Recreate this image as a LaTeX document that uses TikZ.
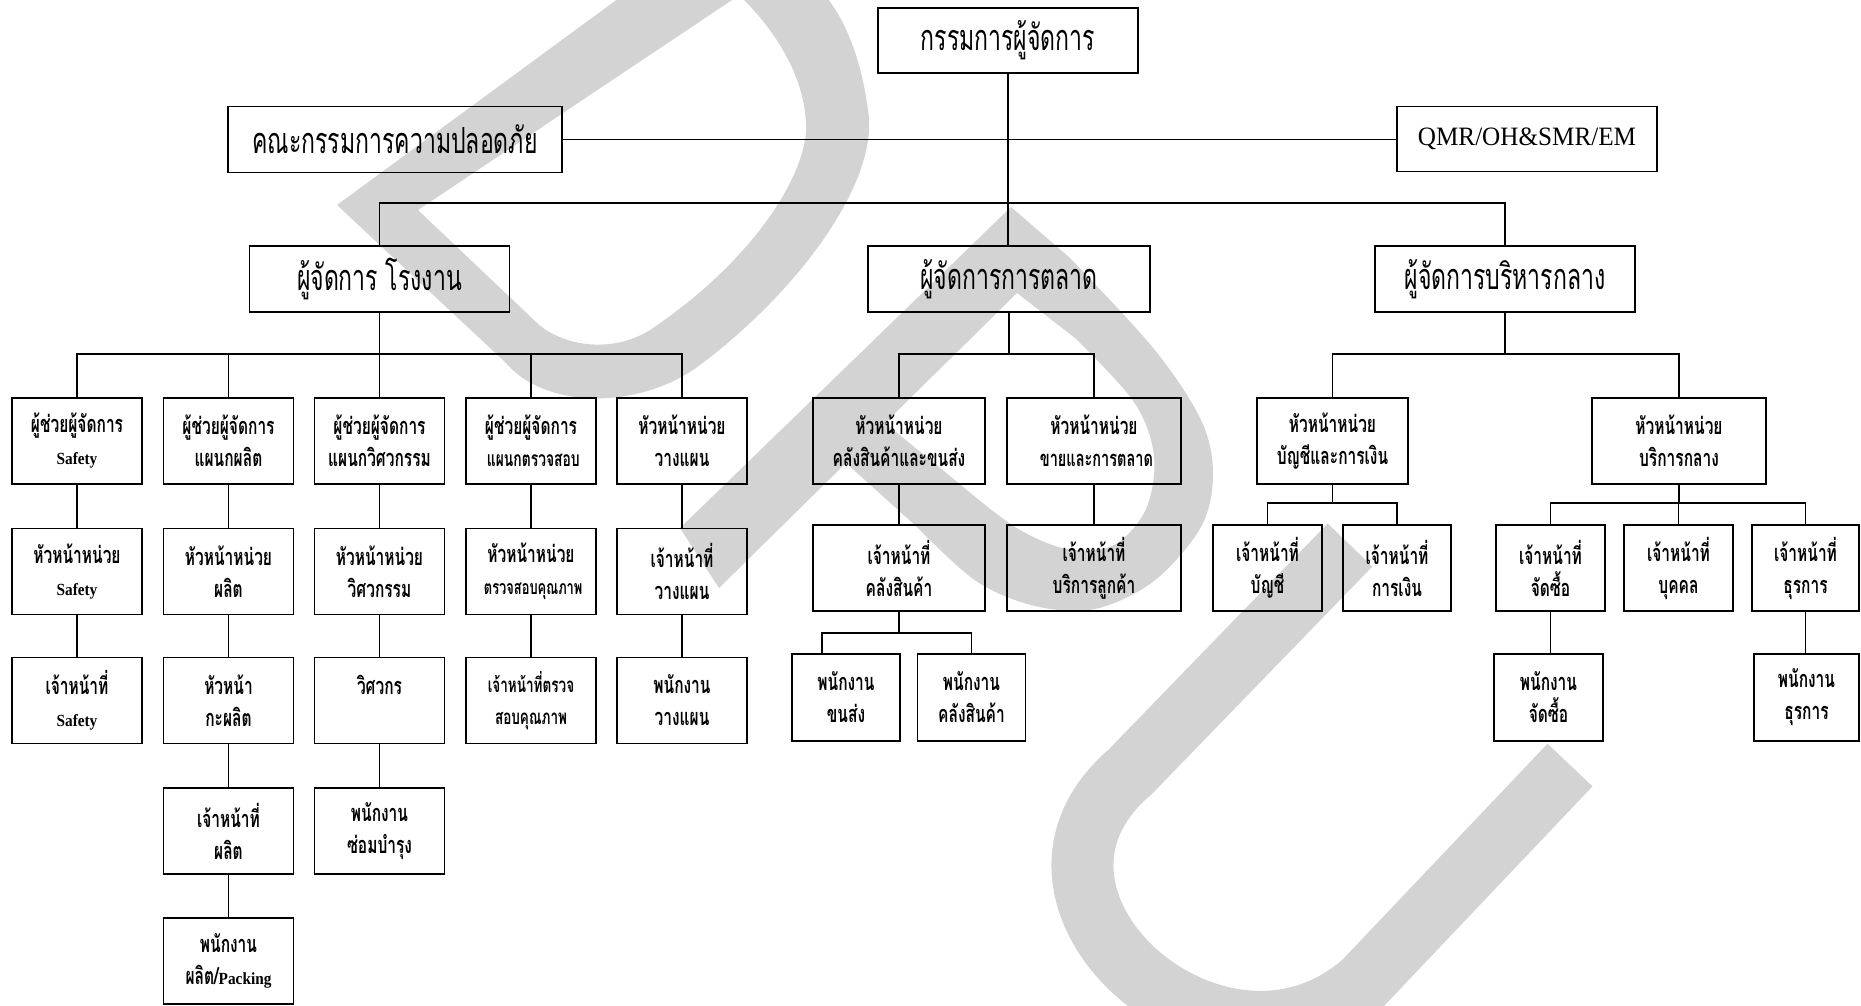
\documentclass[tikz,border=0pt]{standalone}
\usepackage{fontspec}
\newfontfamily\thaibig[Script=Thai,FakeStretch=0.64]{Loma}
\newfontfamily\thaism[Script=Thai,FakeStretch=0.66]{Loma}
\newfontfamily\latserif[FakeStretch=0.9]{Liberation Serif}
\newfontfamily\latwide[FakeStretch=0.95]{Liberation Serif}
\newcommand\bigtx{\thaibig\fontsize{36}{40}\selectfont}
\newcommand\smtx{\thaism\bfseries\fontsize{23.5}{32}\selectfont}
\newcommand\sizedtx[1]{\thaism\bfseries\fontsize{#1}{32}\selectfont}
\newcommand\engw[1]{{\latserif\bfseries\fontsize{17}{32}\selectfont #1}}
\definecolor{wmgrey}{RGB}{211,211,211}

\begin{document}
\begin{tikzpicture}[x=1pt,y=-1pt,
  box/.style={draw, line width=1.8pt, inner sep=0pt, align=center},
  head/.style={box, minimum height=66pt, font=\bigtx},
  cell/.style={box, minimum width=130pt, minimum height=86pt, font=\smtx},
  link/.style={line width=1.6pt}]
\useasboundingbox (0,0) rectangle (1861,1005);

% background watermark strokes
\begin{scope}
\clip (0,0) rectangle (1861,1005);
\fill[wmgrey, even odd rule]
  (630,-10) -- (337,205) -- (505,362)
    .. controls (545,410) and (640,410) .. (700,365)
    .. controls (800,290) and (880,180) .. (868,110)
    .. controls (860,50) and (840,10) .. (820,-10) -- cycle
  (735,-2) -- (418,210) -- (536,322)
    .. controls (560,345) and (610,355) .. (650,330)
    .. controls (740,270) and (800,190) .. (806,133)
    .. controls (808,80) and (775,30) .. (742,-2) -- cycle;
\fill[wmgrey, even odd rule]
  (680,528) -- (1011,207)
    -- plot[smooth, tension=0.55] coordinates {(1070,258) (1154,349) (1201,420) (1213,474) (1201,527) (1154,581) (1095,609) (1035,606) (976,581) (917,527)}
    -- (846,463) -- (719,588) -- cycle
  (1017,293) -- (885,423)
    -- plot[smooth, tension=0.55] coordinates {(956,481) (1015,527) (1067,549) (1114,545) (1146,509) (1154,456) (1134,402) (1075,338)}
    -- cycle;
\draw[wmgrey, line width=62pt]
  (1350,545) -- (1130,772)
    .. controls (980,900) and (1220,1110) .. (1364,982) -- (1570,765);
\end{scope}

% top level
\node[head, minimum width=260pt, minimum height=65pt] (md) at (1008,40.5) {กรรมการผู้จัดการ};
\node[head, minimum width=334pt] (safe) at (395,139.5) {คณะกรรมการความปลอดภัย};
\node[head, minimum width=260pt, minimum height=65pt, font=\latwide\fontsize{26.5}{30}\selectfont] (qmr) at (1527,139) {QMR/OH\&SMR/EM};

% managers
\node[head, minimum width=260pt] (fm) at (379.5,279) {ผู้จัดการ โรงงาน};
\node[head, minimum width=282pt] (mm) at (1009,279) {ผู้จัดการการตลาด};
\node[head, minimum width=260pt] (am) at (1505,279) {ผู้จัดการบริหารกลาง};

% factory columns
\node[cell] (s1) at (77,441)   {ผู้ช่วยผู้จัดการ\\\engw{Safety}};
\node[cell] (s2) at (77,571.5) {หัวหน้าหน่วย\\\engw{Safety}};
\node[cell] (s3) at (77,700.5) {เจ้าหน้าที่\\\engw{Safety}};

\node[cell] (p1) at (228.5,441)   {ผู้ช่วยผู้จัดการ\\แผนกผลิต};
\node[cell] (p2) at (228.5,571.5) {หัวหน้าหน่วย\\ผลิต};
\node[cell] (p3) at (228.5,700.5) {หัวหน้า\\กะผลิต};
\node[cell] (p4) at (228.5,831)   {เจ้าหน้าที่\\ผลิต};
\node[cell] (p5) at (228.5,961)   {พนักงาน\\ผลิต/\engw{Packing}};

\node[cell] (e1) at (379.5,441)   {ผู้ช่วยผู้จัดการ\\แผนกวิศวกรรม};
\node[cell] (e2) at (379.5,571.5) {หัวหน้าหน่วย\\วิศวกรรม};
\node[cell] (e3) at (379.5,700.5) {วิศวกร\\\mbox{}};
\node[cell] (e4) at (379.5,831)   {พนักงาน\\ซ่อมบำรุง};

\node[cell] (q1) at (531,441)   {ผู้ช่วยผู้จัดการ\\{\sizedtx{21} แผนกตรวจสอบ}};
\node[cell] (q2) at (531,571.5) {หัวหน้าหน่วย\\{\sizedtx{19.5} ตรวจสอบคุณภาพ}};
\node[cell, font=\sizedtx{20.5}] (q3) at (531,700.5) {เจ้าหน้าที่ตรวจ\\สอบคุณภาพ};

\node[cell] (v1) at (682,441)   {หัวหน้าหน่วย\\วางแผน};
\node[cell] (v2) at (682,571.5) {เจ้าหน้าที่\\วางแผน};
\node[cell] (v3) at (682,700.5) {พนักงาน\\วางแผน};

% marketing
\node[cell, minimum width=172pt] (k1) at (899,441)  {หัวหน้าหน่วย\\คลังสินค้าและขนส่ง};
\node[cell, minimum width=174pt] (k2) at (1094,441) {หัวหน้าหน่วย\\{\sizedtx{22} ขายและการตลาด}};
\node[cell, minimum width=172pt] (k3) at (899,568)  {เจ้าหน้าที่\\คลังสินค้า};
\node[cell, minimum width=174pt] (k4) at (1094,568) {เจ้าหน้าที่\\บริการลูกค้า};
\node[cell, minimum width=108pt, minimum height=87pt] (k5) at (846,697.5)   {พนักงาน\\ขนส่ง};
\node[cell, minimum width=108pt, minimum height=87pt] (k6) at (971.5,697.5) {พนักงาน\\คลังสินค้า};

% administration
\node[cell, minimum width=151pt] (a1) at (1332.5,441) {หัวหน้าหน่วย\\บัญชีและการเงิน};
\node[cell, minimum width=174pt] (a2) at (1679,441)   {หัวหน้าหน่วย\\บริการกลาง};
\node[cell, minimum width=109pt] (a3) at (1267.5,568) {เจ้าหน้าที่\\บัญชี};
\node[cell, minimum width=108pt] (a4) at (1397,568)   {เจ้าหน้าที่\\การเงิน};
\node[cell, minimum width=109pt] (a5) at (1550.5,568) {เจ้าหน้าที่\\จัดซื้อ};
\node[cell, minimum width=109pt] (a6) at (1678.5,568) {เจ้าหน้าที่\\บุคคล};
\node[cell, minimum width=107pt] (a7) at (1805.5,568) {เจ้าหน้าที่\\ธุรการ};
\node[cell, minimum width=109pt, minimum height=87pt] (a8) at (1548.5,697.5) {พนักงาน\\จัดซื้อ};
\node[cell, minimum width=105pt, minimum height=87pt] (a9) at (1806.5,697.5) {พนักงาน\\ธุรการ};

% bus levels
\coordinate (tb)  at (0,203);
\coordinate (rb)  at (0,354);
\coordinate (kb)  at (0,633);
\coordinate (ab)  at (0,503);

% top connectors
\draw[link] (md.south) -- (md.south |- mm.north);
\draw[link] (safe.east) -- (safe.east -| qmr.west);
\draw[link] (fm.north) -- (fm.north |- tb) -- (am.north |- tb) -- (am.north);

% factory connectors
\draw[link] (fm.south) -- (e1.north);
\draw[link] (s1.north) -- (s1.north |- rb) -- (v1.north |- rb) -- (v1.north);
\draw[link] (p1.north) -- (p1.north |- rb);
\draw[link] (q1.north) -- (q1.north |- rb);
\draw[link] (s1.south) -- (s2.north);
\draw[link] (s2.south) -- (s3.north);
\draw[link] (p1.south) -- (p2.north);
\draw[link] (p2.south) -- (p3.north);
\draw[link] (p3.south) -- (p4.north);
\draw[link] (p4.south) -- (p5.north);
\draw[link] (e1.south) -- (e2.north);
\draw[link] (e2.south) -- (e3.north);
\draw[link] (e3.south) -- (e4.north);
\draw[link] (q1.south) -- (q2.north);
\draw[link] (q2.south) -- (q3.north);
\draw[link] (v1.south) -- (v2.north);
\draw[link] (v2.south) -- (v3.north);

% marketing connectors
\draw[link] (mm.south) -- (mm.south |- rb);
\draw[link] (k1.north) -- (k1.north |- rb) -- (k2.north |- rb) -- (k2.north);
\draw[link] (k1.south) -- (k3.north);
\draw[link] (k2.south) -- (k4.north);
\draw[link] (k3.south) -- (k3.south |- kb);
\draw[link] ([xshift=-24pt]k5.north) -- ([xshift=-24pt]k5.north |- kb) -- (k6.north |- kb) -- (k6.north);

% administration connectors
\draw[link] (am.south) -- (am.south |- rb);
\draw[link] (a1.north) -- (a1.north |- rb) -- (a2.north |- rb) -- (a2.north);
\draw[link] (a1.south) -- (a1.south |- ab);
\draw[link] (a3.north) -- (a3.north |- ab) -- (a4.north |- ab) -- (a4.north);
\draw[link] (a2.south) -- (a2.south |- ab);
\draw[link] (a5.north) -- (a5.north |- ab) -- (a7.north |- ab) -- (a7.north);
\draw[link] (a6.north) -- (a6.north |- ab);
\draw[link] (a5.south) -- (a5.south |- a8.north);
\draw[link] (a7.south) -- (a7.south |- a9.north);
\end{tikzpicture}
\end{document}
